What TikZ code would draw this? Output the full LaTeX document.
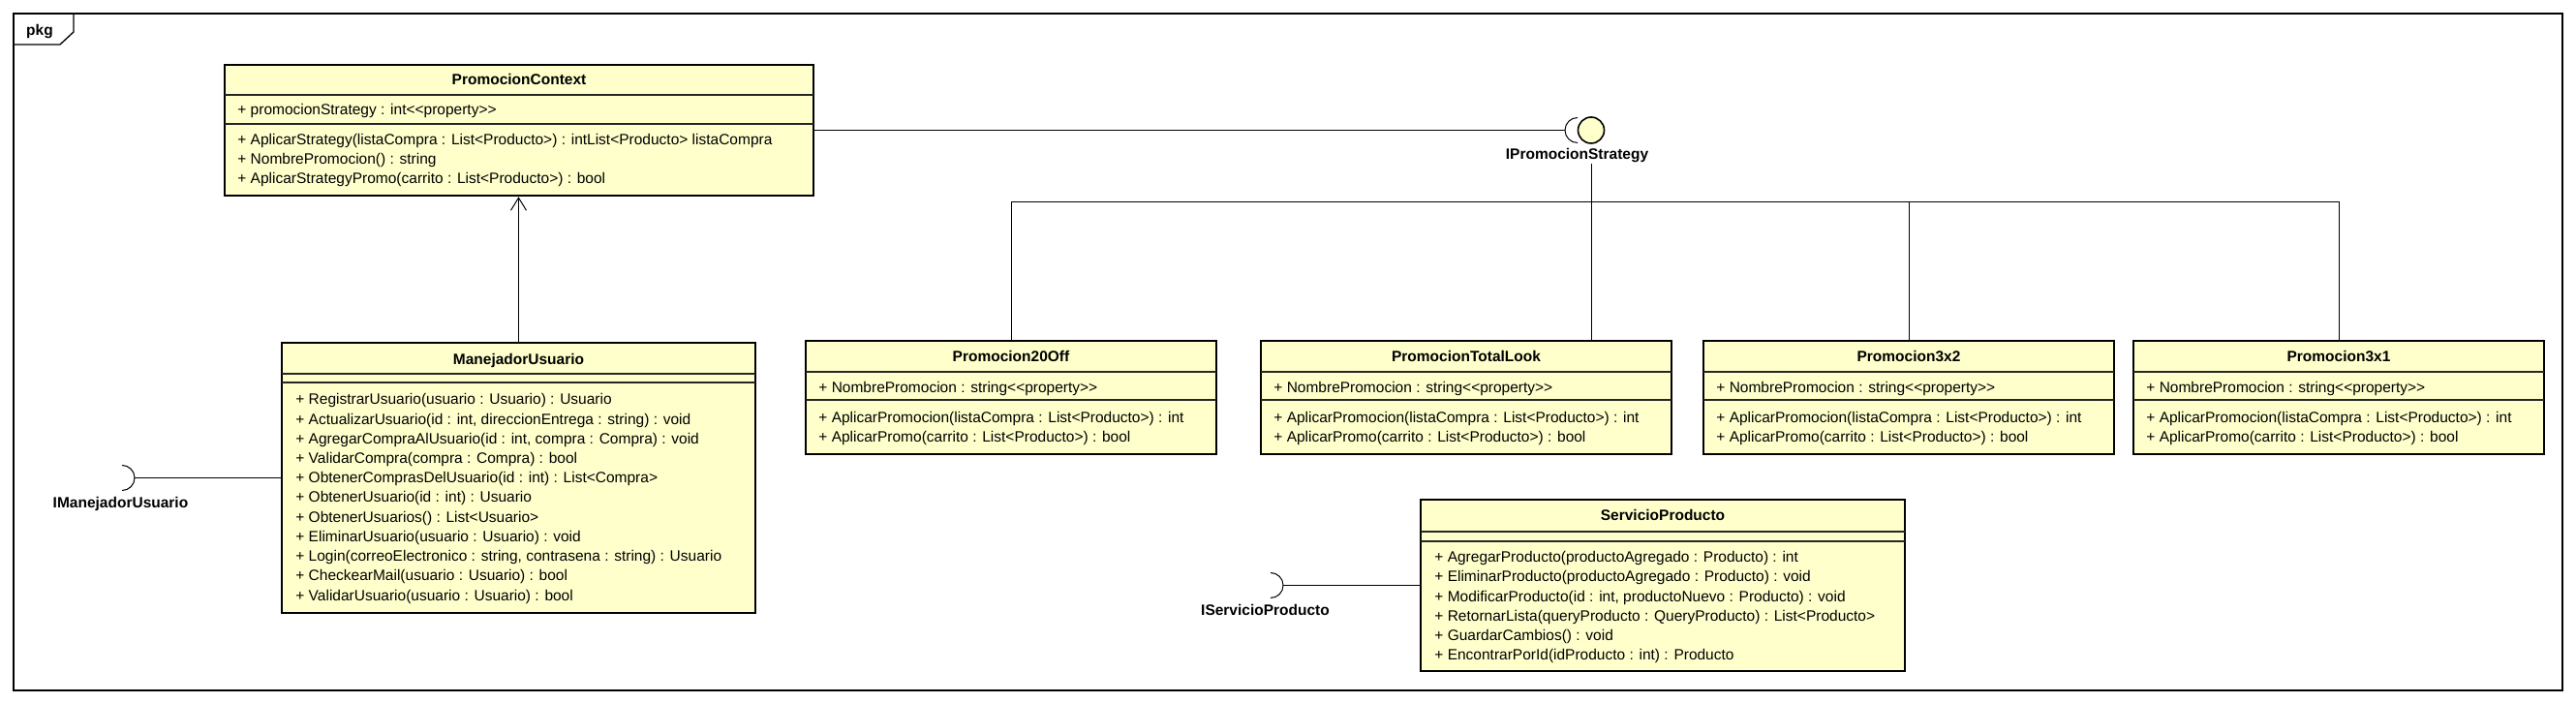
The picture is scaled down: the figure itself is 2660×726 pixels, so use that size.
\documentclass[tikz,border=0pt]{standalone}
\usepackage{fontspec}
\setmainfont{Liberation Sans}
\usetikzlibrary{fit,arrows.meta}
\definecolor{classfill}{RGB}{255,255,204}

\begin{document}
\begin{tikzpicture}[x=0.5pt,y=-0.5pt,
  font=\fontsize{7.75pt}{10pt}\selectfont,
  >={Straight Barb[length=6.5pt,width=8pt]},
  classbox/.style={draw,line width=1.3pt,fill=classfill,inner sep=0pt},
  classname/.style={anchor=base,inner sep=0pt,font=\fontsize{7.75pt}{10pt}\selectfont\bfseries},
  member/.style={anchor=base west,inner sep=0pt},
  divider/.style={line width=0.6pt,draw=black!85},
  link/.style={line width=0.5pt},
  lollipop/.style={circle,draw,line width=0.8pt,fill=classfill,minimum size=13.5pt,inner sep=0pt},
  iface/.style={anchor=base,inner sep=0pt,font=\fontsize{7.75pt}{10pt}\selectfont\bfseries},
  pkgframe/.style={line width=0.65pt}]
  \useasboundingbox (0,0) rectangle (2660,726);

  % Draw the package frame with its tab
  \draw[pkgframe] (14,14) rectangle (2646,713);
  \draw[pkgframe] (14,46) -- (62,46) -- (76,33) -- (76,14);
  \node[iface] (pkg) at (41,37) {pkg};

  % Draw the context class
  \node[classbox, fit={(232,67) (840,202)}] (PromocionContext) {};
  \node[classname] (PromocionContext-name) at (536,88) {PromocionContext};
  \draw[divider] (232,98) -- (840,98);
  \node[member] (PromocionContext-a1) at (245,119) {+ promocionStrategy : int<{}<property>{}>};
  \draw[divider] (232,128) -- (840,128);
  \node[member] (PromocionContext-m1) at (245,150) {+ AplicarStrategy(listaCompra : List<Producto>) : intList<Producto> listaCompra};
  \node[member] (PromocionContext-m2) at (245,170) {+ NombrePromocion() : string};
  \node[member] (PromocionContext-m3) at (245,190) {+ AplicarStrategyPromo(carrito : List<Producto>) : bool};

  % Draw the user manager class
  \node[classbox, fit={(291,354) (780,633)}] (ManejadorUsuario) {};
  \node[classname] (ManejadorUsuario-name) at (535.5,377) {ManejadorUsuario};
  \draw[divider] (291,386) -- (780,386);
  \draw[divider] (291,395) -- (780,395);
  \node[member] (ManejadorUsuario-m1) at (305,418) {+ RegistrarUsuario(usuario : Usuario) : Usuario};
  \node[member] (ManejadorUsuario-m2) at (305,438.2) {+ ActualizarUsuario(id : int, direccionEntrega : string) : void};
  \node[member] (ManejadorUsuario-m3) at (305,458.4) {+ AgregarCompraAlUsuario(id : int, compra : Compra) : void};
  \node[member] (ManejadorUsuario-m4) at (305,478.6) {+ ValidarCompra(compra : Compra) : bool};
  \node[member] (ManejadorUsuario-m5) at (305,498.8) {+ ObtenerComprasDelUsuario(id : int) : List<Compra>};
  \node[member] (ManejadorUsuario-m6) at (305,519) {+ ObtenerUsuario(id : int) : Usuario};
  \node[member] (ManejadorUsuario-m7) at (305,539.2) {+ ObtenerUsuarios() : List<Usuario>};
  \node[member] (ManejadorUsuario-m8) at (305,559.4) {+ EliminarUsuario(usuario : Usuario) : void};
  \node[member] (ManejadorUsuario-m9) at (305,579.6) {+ Login(correoElectronico : string, contrasena : string) : Usuario};
  \node[member] (ManejadorUsuario-m10) at (305,599.8) {+ CheckearMail(usuario : Usuario) : bool};
  \node[member] (ManejadorUsuario-m11) at (305,620) {+ ValidarUsuario(usuario : Usuario) : bool};

  % Draw the four promotion classes
  \foreach \name/\lft in {Promocion20Off/832,PromocionTotalLook/1302,Promocion3x2/1759,Promocion3x1/2203}{
    \node[classbox, fit={(\lft,352) (\lft+424,469)}] (\name) {};
    \node[classname] (\name-name) at (\lft+212,374) {\name};
    \draw[divider] (\lft,384) -- (\lft+424,384);
    \node[member] (\name-a1) at (\lft+13,406) {+ NombrePromocion : string<{}<property>{}>};
    \draw[divider] (\lft,413) -- (\lft+424,413);
    \node[member] (\name-m1) at (\lft+13,437) {+ AplicarPromocion(listaCompra : List<Producto>) : int};
    \node[member] (\name-m2) at (\lft+13,457) {+ AplicarPromo(carrito : List<Producto>) : bool};
  }

  % Draw the product service class
  \node[classbox, fit={(1467,516) (1967,693)}] (ServicioProducto) {};
  \node[classname] (ServicioProducto-name) at (1717,538) {ServicioProducto};
  \draw[divider] (1467,549) -- (1967,549);
  \draw[divider] (1467,559) -- (1967,559);
  \node[member] (ServicioProducto-m1) at (1481,581) {+ AgregarProducto(productoAgregado : Producto) : int};
  \node[member] (ServicioProducto-m2) at (1481,601) {+ EliminarProducto(productoAgregado : Producto) : void};
  \node[member] (ServicioProducto-m3) at (1481,621) {+ ModificarProducto(id : int, productoNuevo : Producto) : void};
  \node[member] (ServicioProducto-m4) at (1481,641) {+ RetornarLista(queryProducto : QueryProducto) : List<Producto>};
  \node[member] (ServicioProducto-m5) at (1481,661) {+ GuardarCambios() : void};
  \node[member] (ServicioProducto-m6) at (1481,681) {+ EncontrarPorId(idProducto : int) : Producto};

  % Draw the strategy interface (ball and socket)
  \node[lollipop] (IPromocionStrategy) at (1643,134.5) {};
  \node[iface] (IPromocionStrategy-label) at (1628.5,165) {IPromocionStrategy};
  \coordinate (IPromocionStrategy-socket) at (1616,134.5);
  \draw[link] (1629,121.5) arc[start angle=-90,end angle=-270,radius=13];
  \draw[link] (PromocionContext.east) -- (IPromocionStrategy-socket);

  % Draw the realization lines down to the promotions
  \coordinate (bus) at (0,209);
  \draw[link] (IPromocionStrategy-label.south -| IPromocionStrategy) -- (PromocionTotalLook.north -| IPromocionStrategy);
  \draw[link] (Promocion20Off.north) -- (Promocion20Off.north |- bus) -| (Promocion3x1.north);
  \draw[link] (Promocion3x2.north) -- (Promocion3x2.north |- bus);

  % Draw the user manager interface (socket)
  \coordinate (IManejadorUsuario-socket) at (139,493.5);
  \draw[link] (126,480.5) arc[start angle=-90,end angle=90,radius=13];
  \draw[link] (ManejadorUsuario.west) -- (IManejadorUsuario-socket);
  \node[iface] (IManejadorUsuario) at (124.5,525) {IManejadorUsuario};

  % Draw the product service interface (socket)
  \coordinate (IServicioProducto-socket) at (1325,604.5);
  \draw[link] (1312,591.5) arc[start angle=-90,end angle=90,radius=13];
  \draw[link] (ServicioProducto.west) -- (IServicioProducto-socket);
  \node[iface] (IServicioProducto) at (1306.5,635) {IServicioProducto};

  % Draw the arrow from the user manager to the context
  \draw[link,->] (ManejadorUsuario.north) -- (ManejadorUsuario.north |- PromocionContext.south);
\end{tikzpicture}
\end{document}
